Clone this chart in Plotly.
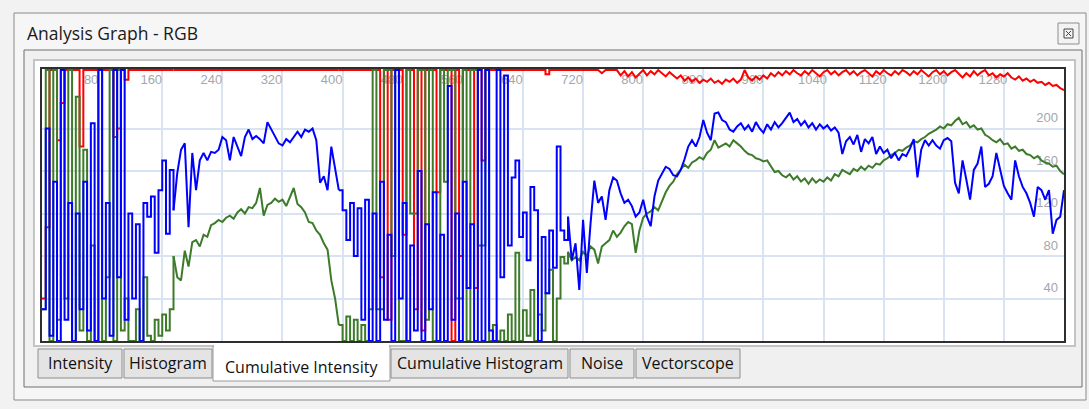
import plotly.graph_objects as go

# ---------------- data ----------------
sample_step = 5
sample_count = 273
x_ticks = [80, 160, 240, 320, 400, 480, 560, 640, 720, 800, 880, 960, 1040, 1120, 1200, 1280]
y_ticks = [40, 80, 120, 160, 200, 240]
# sample index ranges where the signal is saturated noise
noisy_ranges = [(0, 35), (79, 140)]

red_values = [
    40, 107, 255, 255, 189, 224, 255, 255, 255, 255,
    183, 255, 255, 255, 255, 255, 255, 255, 255, 192,
    200, 255, 246, 255, 255, 255, 255, 255, 255, 255,
    255, 255, 255, 255, 255, 255, 255, 255, 255, 255,
    255, 255, 255, 255, 255, 255, 255, 255, 255, 255,
    255, 255, 255, 255, 255, 255, 255, 255, 255, 255,
    255, 255, 255, 255, 255, 255, 255, 255, 255, 255,
    255, 255, 255, 255, 255, 255, 255, 255, 255, 255,
    255, 255, 255, 255, 255, 255, 255, 255, 255, 255,
    60, 255, 20, 255, 255, 255, 100, 255, 255, 30,
    255, 10, 255, 255, 255, 140, 255, 255, 255, 0,
    255, 80, 255, 255, 255, 50, 255, 170, 255, 255,
    255, 255, 255, 255, 255, 255, 255, 255, 255, 255,
    255, 255, 255, 255, 251, 255, 255, 255, 255, 255,
    255, 255, 255, 255, 255, 255, 255, 255, 255, 252,
    255, 255, 255, 255, 250, 254, 249, 253, 248, 252,
    255, 250, 254, 251, 255, 252, 249, 253, 250, 247,
    250, 245, 248, 244, 247, 243, 246, 244, 247, 243,
    245, 242, 246, 244, 247, 243, 246, 255, 248, 245,
    249, 246, 250, 247, 252, 249, 253, 250, 254, 251,
    255, 252, 250, 254, 251, 255, 252, 249, 253, 255,
    251, 254, 250, 253, 255, 251, 254, 250, 253, 255,
    252, 249, 254, 251, 255, 252, 250, 254, 251, 255,
    253, 250, 254, 251, 255, 252, 249, 253, 255, 251,
    254, 250, 253, 255, 251, 248, 252, 249, 254, 250,
    253, 255, 250, 252, 248, 251, 249, 252, 248, 246,
    249, 245, 247, 244, 246, 243, 244, 241, 243, 240,
    241, 238, 236,
]

green_values = [
    30, 255, 0, 255, 20, 255, 40, 255, 0, 230,
    10, 180, 0, 90, 0, 255, 0, 60, 255, 0,
    255, 10, 40, 0, 0, 30, 0, 60, 5, 0,
    20, 5, 25, 10, 30, 80, 60, 57, 85, 70,
    93, 95, 89, 100, 98, 109, 111, 114, 112, 116,
    118, 115, 121, 124, 120, 126, 125, 130, 144, 118,
    128, 130, 134, 131, 133, 127, 136, 144, 129, 126,
    121, 112, 111, 104, 100, 92, 86, 57, 40, 15,
    0, 23, 0, 20, 0, 15, 0, 30, 255, 30,
    30, 255, 255, 80, 255, 0, 0, 255, 120, 120,
    255, 255, 20, 255, 0, 0, 255, 150, 255, 255,
    40, 40, 255, 0, 255, 255, 90, 90, 255, 0,
    15, 0, 10, 0, 25, 0, 83, 0, 29, 5,
    48, 0, 25, 10, 45, 67, 0, 40, 79, 73,
    84, 76, 79, 76, 84, 80, 89, 86, 73, 89,
    92, 95, 104, 98, 102, 108, 112, 110, 83, 104,
    116, 120, 122, 126, 123, 132, 140, 146, 150, 157,
    161, 166, 163, 168, 170, 173, 171, 177, 180, 189,
    182, 184, 186, 183, 189, 186, 183, 179, 176, 175,
    172, 171, 169, 170, 164, 159, 160, 156, 154, 157,
    152, 155, 150, 153, 148, 153, 149, 152, 150, 154,
    151, 157, 155, 161, 159, 157, 162, 160, 164, 161,
    165, 163, 167, 166, 170, 172, 175, 177, 180, 179,
    182, 184, 188, 187, 190, 192, 195, 197, 199, 202,
    200, 204, 203, 207, 210, 204, 206, 201, 203, 199,
    200, 194, 192, 189, 187, 190, 185, 186, 181, 183,
    179, 180, 176, 175, 172, 174, 170, 168, 167, 164,
    165, 160, 157,
]

blue_values = [
    30, 200, 5, 150, 0, 255, 20, 130, 0, 120,
    30, 150, 10, 205, 0, 255, 40, 130, 5, 255,
    60, 255, 20, 120, 40, 110, 0, 130, 117, 136,
    83, 142, 170, 101, 161, 123, 158, 180, 186, 107,
    177, 142, 170, 177, 170, 178, 177, 180, 192, 189,
    170, 192, 183, 174, 192, 199, 190, 193, 190, 186,
    206, 199, 192, 186, 184, 190, 187, 192, 197, 192,
    199, 197, 200, 189, 149, 155, 142, 183, 161, 142,
    123, 95, 130, 80, 125, 20, 133, 0, 120, 0,
    150, 20, 100, 0, 255, 40, 130, 0, 90, 10,
    160, 0, 110, 30, 140, 0, 100, 0, 240, 20,
    120, 0, 150, 50, 110, 0, 255, 0, 255, 10,
    0, 255, 60, 250, 90, 154, 170, 98, 121, 76,
    145, 123, 0, 98, 45, 104, 69, 183, 104, 95,
    117, 76, 92, 48, 114, 64, 111, 151, 130, 136,
    114, 142, 154, 151, 139, 130, 133, 127, 117, 121,
    133, 117, 108, 136, 151, 158, 164, 162, 156, 155,
    161, 171, 183, 189, 183, 192, 208, 196, 189, 214,
    215, 208, 206, 199, 197, 202, 205, 199, 203, 197,
    206, 200, 196, 204, 199, 206, 201, 205, 210, 215,
    206, 209, 203, 207, 201, 205, 199, 204, 200, 203,
    198, 201, 196, 176, 188, 192, 185, 194, 178, 190,
    186, 192, 176, 183, 177, 180, 172, 177, 170, 176,
    174, 181, 190, 154, 180, 189, 184, 189, 184, 181,
    189, 191, 188, 149, 139, 170, 152, 133, 161, 167,
    183, 145, 148, 155, 177, 161, 146, 139, 133, 170,
    155, 145, 139, 130, 117, 145, 142, 133, 142, 101,
    114, 117, 142,
]

tab_labels = ["Intensity", "Histogram", "Cumulative Intensity",
              "Cumulative Histogram", "Noise", "Vectorscope"]
selected_tab = "Cumulative Intensity"
window_title = "Analysis Graph - RGB"

# ---------------- layout / styling ----------------
W, H = 1089, 409
positions = [i * sample_step for i in range(sample_count)]

RED = "#ff0000"
GREEN = "#3d7b2a"
BLUE = "#0000ff"
GRID = "#d8e4f2"


def px(x):
    return x / W


def py(y):
    return 1 - y / H


def in_noisy(i):
    return any(a <= i <= b for a, b in noisy_ranges)


def part(vals, noisy):
    return [v if in_noisy(i) == noisy or
            (not noisy and any(i in (a, b) for a, b in noisy_ranges)) else None
            for i, v in enumerate(vals)]


shapes = []


def rect(x0, y0, x1, y1, fill=None, line=None, lw=1, layer="below"):
    shapes.append(dict(
        type="rect", xref="paper", yref="paper",
        x0=px(x0), x1=px(x1), y0=py(y1), y1=py(y0),
        fillcolor=fill if fill else "rgba(0,0,0,0)",
        line=dict(color=line if line else "rgba(0,0,0,0)", width=lw if line else 0),
        layer=layer))


def seg(x0, y0, x1, y1, color, lw=1, layer="below"):
    shapes.append(dict(
        type="line", xref="paper", yref="paper",
        x0=px(x0), x1=px(x1), y0=py(y0), y1=py(y1),
        line=dict(color=color, width=lw), layer=layer))


# window frame
rect(14, 13, 1086, 400, fill="#f6f6f6", line="#8a8a8a", lw=1)
# inner panel
rect(24, 50, 1082, 387, fill="#f0f0f0", line="#6e6e6e", lw=1)
# chart panel
rect(34, 60, 1075, 346, fill="#ffffff", line="#c4c4c4", lw=2)
# plot border + plot area
rect(40, 67, 1066, 343, fill="#2e2e2e")
rect(42, 69, 1064, 341, fill="#ffffff")

# close button
rect(1058, 23, 1079, 44, fill="#f3f3f3", line="#8d8d8d", lw=1, layer="above")
rect(1064, 29, 1073, 38, fill="#f3f3f3", line="#444444", lw=1, layer="above")
seg(1066, 31, 1071, 36, "#444444", 1, "above")
seg(1066, 36, 1071, 31, "#444444", 1, "above")

# tabs
tab_edges = [37, 123, 213, 390, 569, 635, 741]
annotations = []
for k, lab in enumerate(tab_labels):
    x0, x1 = tab_edges[k], tab_edges[k + 1]
    if lab == selected_tab:
        rect(x0, 346, x1, 381, fill="#ffffff", line="#9a9a9a", lw=1, layer="above")
        seg(x0 + 1, 346, x1 - 1, 346, "#ffffff", 2, "above")
        yc = 367
    else:
        rect(x0 + 1, 349, x1 - 1, 378, fill="#e4e4e4", line="#8f8f8f", lw=1, layer="above")
        yc = 363
    annotations.append(dict(
        x=px((x0 + x1) / 2), y=py(yc), xref="paper", yref="paper",
        text=lab, showarrow=False, xanchor="center", yanchor="middle",
        font=dict(family="Open Sans", size=16, color="#111111")))

annotations.append(dict(
    x=px(25), y=py(33), xref="paper", yref="paper", text=window_title,
    showarrow=False, xanchor="left", yanchor="middle",
    font=dict(family="Open Sans", size=17.5, color="#1a1a1a")))

fig = go.Figure()
for vals, col in [(red_values, RED), (green_values, GREEN), (blue_values, BLUE)]:
    fig.add_trace(go.Scatter(
        x=positions, y=part(vals, False), mode="lines",
        line=dict(color=col, width=2), hoverinfo="skip"))
    fig.add_trace(go.Scatter(
        x=positions, y=part(vals, True), mode="lines",
        line=dict(color=col, width=2, shape="hv"), hoverinfo="skip"))

tick_font = dict(family="Liberation Sans", size=13, color="#a3a7ab")
fig.update_layout(
    width=W, height=H,
    margin=dict(l=0, r=0, t=0, b=0),
    paper_bgcolor="#f2f2f2",
    plot_bgcolor="rgba(0,0,0,0)",
    showlegend=False,
    hovermode=False,
    shapes=shapes,
    annotations=annotations,
    xaxis=dict(
        domain=[px(42), px(1064)], range=[0, 1360], side="top",
        tickvals=x_ticks, ticktext=[str(v) for v in x_ticks],
        ticklabelposition="inside", ticks="", ticklabelshift=-11,
        ticklabelstandoff=3,
        showgrid=True, gridcolor=GRID, gridwidth=2,
        zeroline=False, showline=False, layer="below traces",
        tickfont=tick_font, fixedrange=True),
    yaxis=dict(
        domain=[py(341), py(69)], range=[0, 256], side="right",
        tickvals=y_ticks, ticktext=[str(v) for v in y_ticks],
        ticklabelposition="inside", ticks="", ticklabelshift=-11,
        ticklabelstandoff=3,
        showgrid=True, gridcolor=GRID, gridwidth=2,
        zeroline=False, showline=False, layer="below traces",
        tickfont=tick_font, fixedrange=True),
)

fig.write_html("out.html", config={"displayModeBar": False},
               post_script="document.body.style.margin='0';")
